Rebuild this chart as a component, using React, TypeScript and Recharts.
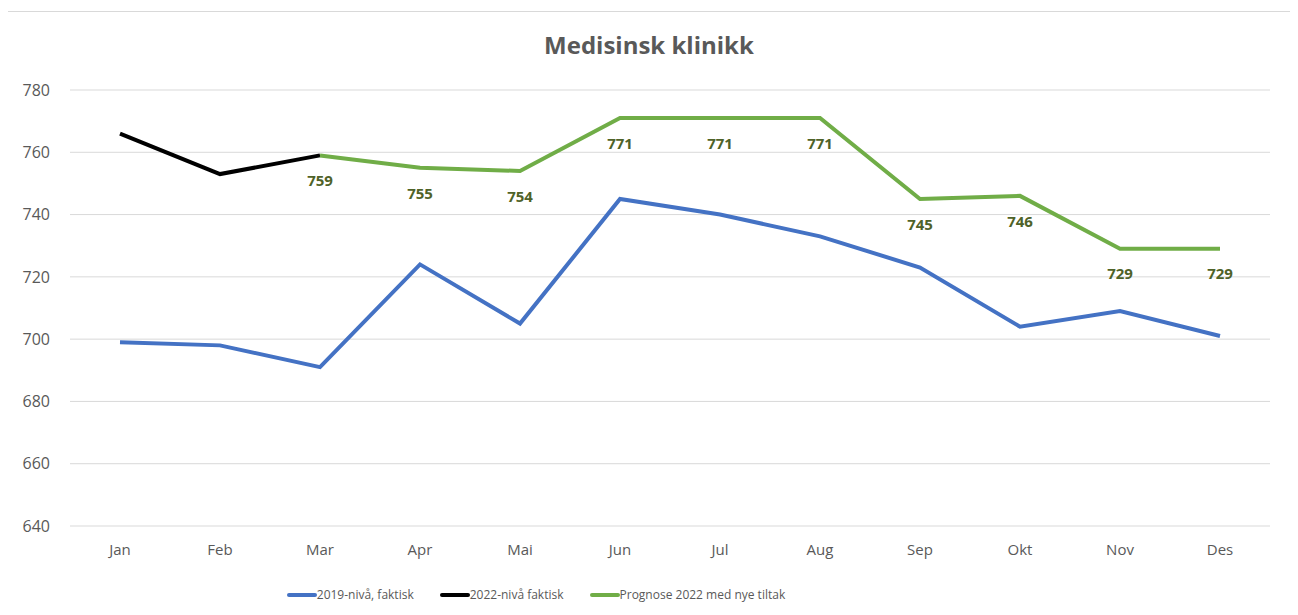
import React from 'react';
import { LineChart, Line, XAxis, YAxis, CartesianGrid, Legend, LabelList } from 'recharts';

const months = ['Jan', 'Feb', 'Mar', 'Apr', 'Mai', 'Jun', 'Jul', 'Aug', 'Sep', 'Okt', 'Nov', 'Des'];
const level2019 = [699, 698, 691, 724, 705, 745, 740, 733, 723, 704, 709, 701];
const actual2022 = [766, 753, 759, null, null, null, null, null, null, null, null, null];
const forecast2022 = [null, null, 759, 755, 754, 771, 771, 771, 745, 746, 729, 729];
const yTicks = [640, 660, 680, 700, 720, 740, 760, 780];

const seriesInfo = [
  { key: 'blue', name: '2019-nivå, faktisk', color: '#4472c4' },
  { key: 'black', name: '2022-nivå faktisk', color: '#000000' },
  { key: 'green', name: 'Prognose 2022 med nye tiltak', color: '#70ad47' },
];

const data = months.map((m, i) => ({
  month: m,
  blue: level2019[i],
  black: actual2022[i],
  green: forecast2022[i],
}));

const FONT = '"Open Sans", "Liberation Sans", sans-serif';

// legend drawn by hand so the line icons look like Excel's
const renderLegend = () => (
  <div style={{ display: 'flex', justifyContent: 'center', gap: 26, fontFamily: FONT, fontSize: 12, color: '#595959', paddingRight: 206 }}>
    {seriesInfo.map((s) => (
      <div key={s.key} style={{ display: 'flex', alignItems: 'center' }}>
        <span style={{ display: 'inline-block', width: 30, height: 4, background: s.color, borderRadius: 2 }} />
        <span>{s.name}</span>
      </div>
    ))}
  </div>
);

const App: React.FC = () => {
  return (
    <div
      style={{
        position: 'relative',
        marginLeft: -1,
        marginTop: 3,
        width: 1282,
        height: 610,
        border: '1px solid #d9d9d9',
        background: '#fff',
        fontFamily: FONT,
      }}
    >
      <div
        style={{
          position: 'absolute',
          top: 16,
          left: 0,
          width: '100%',
          textAlign: 'center',
          fontSize: 24,
          fontWeight: 'bold',
          color: '#595959',
        }}
      >
        Medisinsk klinikk
      </div>
      <LineChart width={1282} height={610} data={data} margin={{ top: 78, right: 20, left: 0, bottom: 19 }}>
        <CartesianGrid vertical={false} stroke="#d9d9d9" />
        <XAxis
          dataKey="month"
          axisLine={false}
          tickLine={false}
          padding={{ left: 50, right: 50 }}
          tick={{ fill: '#595959', fontSize: 15, fontFamily: FONT }}
          tickMargin={12}
          height={60}
        />
        <YAxis
          domain={[640, 780]}
          ticks={yTicks}
          axisLine={false}
          tickLine={false}
          width={62}
          tick={{ fill: '#595959', fontSize: 16, fontFamily: FONT, dx: -12 }}
        />
        <Legend verticalAlign="bottom" content={renderLegend} />
        <Line
          dataKey="blue"
          name={seriesInfo[0].name}
          stroke={seriesInfo[0].color}
          strokeWidth={4}
          dot={false}
          isAnimationActive={false}
        />
        <Line
          dataKey="black"
          name={seriesInfo[1].name}
          stroke={seriesInfo[1].color}
          strokeWidth={4}
          dot={false}
          isAnimationActive={false}
        />
        <Line
          dataKey="green"
          name={seriesInfo[2].name}
          stroke={seriesInfo[2].color}
          strokeWidth={4}
          dot={false}
          isAnimationActive={false}
        >
          <LabelList dataKey="green" position="bottom" offset={20} fill="#4f6228" fontSize={15} fontWeight="bold" fontFamily={FONT} />
        </Line>
      </LineChart>
    </div>
  );
};

export default App;
